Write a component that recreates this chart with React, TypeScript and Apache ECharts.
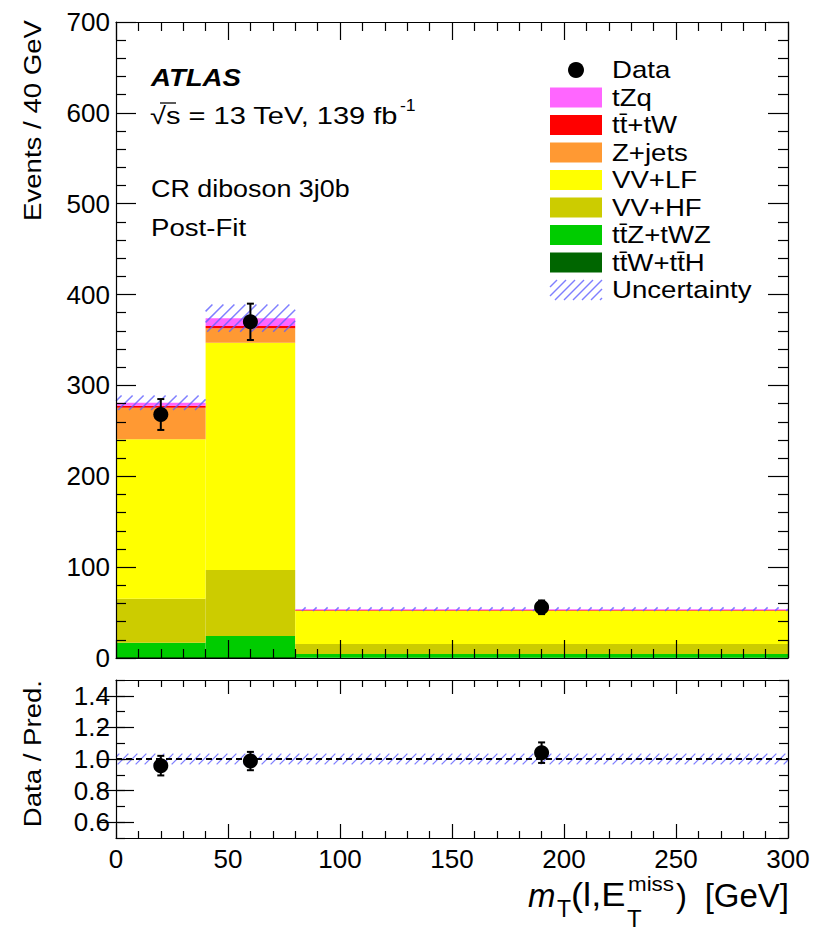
import React, { useEffect, useRef } from "react";
import * as echarts from "echarts";

// ---- data ----
const binEdges = [0, 40, 80, 300];
const binCenters = [20, 60, 190];
const ttWttH = [1.0, 1.2, 0.4];
const ttZtWZ = [15.8, 23.0, 4.0];
const vvHF = [48.5, 72.7, 11.0];
const vvLF = [175.4, 250.1, 36.3];
const zJets = [34.8, 15.9, 0.6];
const ttbarTW = [2.0, 2.5, 0.5];
const tZq = [3.5, 8.6, 0.9];
const mcUncertainty = [8, 15, 2];
const dataValues = [268, 370, 55.8];
const dataErrors = [17, 20, 7.5];
const ratioValues = [0.958, 0.987, 1.04];
const ratioErrors = [0.062, 0.058, 0.065];
const ratioBand = [0.034, 0.034, 0.034];

const mainYTicks = [0, 100, 200, 300, 400, 500, 600, 700];
const ratioYTicks = [0.6, 0.8, 1.0, 1.2, 1.4];
const xTicks = [0, 50, 100, 150, 200, 250, 300];

const TB = "t\u0304";
const processes = [
  { name: `t${TB}W+t${TB}H`, values: ttWttH, color: "#006600" },
  { name: `t${TB}Z+tWZ`, values: ttZtWZ, color: "#00cc00" },
  { name: "VV+HF", values: vvHF, color: "#cccc00" },
  { name: "VV+LF", values: vvLF, color: "#ffff00" },
  { name: "Z+jets", values: zJets, color: "#ff9933" },
  { name: `t${TB}+tW`, values: ttbarTW, color: "#ff0000" },
  { name: "tZq", values: tZq, color: "#ff66ff" },
];

const FONT = "'Liberation Sans', Arial, Helvetica, sans-serif";
const HATCH = "rgba(95,95,255,0.8)";

function hatch(x0: number, y0: number, x1: number, y1: number, step: number, style: any) {
  const out: any[] = [];
  const start = Math.ceil((x0 + y0) / step) * step;
  for (let c = start; c <= x1 + y1; c += step) {
    const lo = Math.max(x0, c - y1);
    const hi = Math.min(x1, c - y0);
    if (hi > lo) out.push({ type: "line", shape: { x1: lo, y1: c - lo, x2: hi, y2: c - hi }, style });
  }
  return out;
}

function pointWithError(api: any, r: number) {
  const x = api.value(0), y = api.value(1), e = api.value(2);
  const p = api.coord([x, y]);
  const t = api.coord([x, y + e]);
  const b = api.coord([x, y - e]);
  const ls = { stroke: "#000", lineWidth: 2 };
  return {
    type: "group",
    children: [
      { type: "line", shape: { x1: p[0], y1: t[1], x2: p[0], y2: b[1] }, style: ls },
      { type: "line", shape: { x1: p[0] - 3.5, y1: t[1], x2: p[0] + 3.5, y2: t[1] }, style: ls },
      { type: "line", shape: { x1: p[0] - 3.5, y1: b[1], x2: p[0] + 3.5, y2: b[1] }, style: ls },
      { type: "circle", shape: { cx: p[0], cy: p[1], r }, style: { fill: "#000" } },
    ],
  };
}

function buildOption() {
  const series: any[] = [];
  const cum = binCenters.map(() => 0);
  processes.forEach((proc) => {
    const data = proc.values.map((v, i) => {
      const base = cum[i];
      cum[i] += v;
      return [binEdges[i], binEdges[i + 1], base, cum[i]];
    });
    series.push({
      type: "custom",
      name: proc.name,
      xAxisIndex: 0,
      yAxisIndex: 0,
      silent: true,
      data,
      renderItem: (_p: any, api: any) => {
        const a = api.coord([api.value(0), api.value(3)]);
        const b = api.coord([api.value(1), api.value(2)]);
        return {
          type: "rect",
          shape: { x: a[0], y: a[1], width: b[0] - a[0], height: b[1] - a[1] },
          style: { fill: proc.color },
        };
      },
    });
  });
  const totals = cum.slice();
  series.push({
    type: "custom",
    name: "Uncertainty",
    xAxisIndex: 0,
    yAxisIndex: 0,
    silent: true,
    data: totals.map((t, i) => [binEdges[i], binEdges[i + 1], t - mcUncertainty[i], t + mcUncertainty[i]]),
    renderItem: (_p: any, api: any) => {
      const a = api.coord([api.value(0), api.value(3)]);
      const b = api.coord([api.value(1), api.value(2)]);
      return {
        type: "group",
        children: hatch(a[0], a[1], b[0], b[1], 11, { stroke: HATCH, lineWidth: 1.5 }),
      };
    },
  });
  series.push({
    type: "custom",
    name: "Data",
    xAxisIndex: 0,
    yAxisIndex: 0,
    silent: true,
    data: dataValues.map((v, i) => [binCenters[i], v, dataErrors[i]]),
    renderItem: (_p: any, api: any) => pointWithError(api, 7.5),
  });
  series.push({
    type: "custom",
    name: "RatioBand",
    xAxisIndex: 2,
    yAxisIndex: 2,
    silent: true,
    data: ratioBand.map((u, i) => [binEdges[i], binEdges[i + 1], 1 - u, 1 + u]),
    renderItem: (_p: any, api: any) => {
      const a = api.coord([api.value(0), api.value(3)]);
      const b = api.coord([api.value(1), api.value(2)]);
      return {
        type: "group",
        children: hatch(a[0], a[1], b[0], b[1], 9, { stroke: HATCH, lineWidth: 1.3 }),
      };
    },
  });
  series.push({
    type: "line",
    name: "Unity",
    xAxisIndex: 2,
    yAxisIndex: 2,
    silent: true,
    symbol: "none",
    data: [
      [binEdges[0], 1],
      [binEdges[binEdges.length - 1], 1],
    ],
    lineStyle: { color: "#000", width: 2, type: [6, 4] },
  });
  series.push({
    type: "custom",
    name: "Ratio",
    xAxisIndex: 2,
    yAxisIndex: 2,
    silent: true,
    data: ratioValues.map((v, i) => [binCenters[i], v, ratioErrors[i]]),
    renderItem: (_p: any, api: any) => pointWithError(api, 7.5),
  });

  const axisLine = { show: true, onZero: false, lineStyle: { color: "#000", width: 1.2 } };
  const label = { color: "#000", fontSize: 26, fontFamily: FONT };

  const xAx = (gridIndex: number, position: string, showLabel: boolean, major: number, minor: number) => ({
    type: "value",
    gridIndex,
    position,
    min: xTicks[0],
    max: xTicks[xTicks.length - 1],
    interval: 50,
    z: 10,
    axisLine,
    axisTick: { show: true, inside: true, length: major, lineStyle: { color: "#000", width: 1.2 } },
    minorTick: { show: true, splitNumber: 5, length: minor, lineStyle: { color: "#000", width: 1.2 } },
    splitLine: { show: false },
    axisLabel: showLabel ? { ...label, margin: 8 } : { show: false },
  });

  const mainY = (position: string, showLabel: boolean) => ({
    type: "value",
    gridIndex: 0,
    position,
    min: mainYTicks[0],
    max: mainYTicks[mainYTicks.length - 1],
    interval: 100,
    z: 10,
    axisLine,
    axisTick: { show: true, inside: true, length: 20, lineStyle: { color: "#000", width: 1.2 } },
    minorTick: { show: true, splitNumber: 5, length: 10, lineStyle: { color: "#000", width: 1.2 } },
    splitLine: { show: false },
    axisLabel: showLabel ? { ...label, margin: 6 } : { show: false },
  });

  const ratioYMinor = (position: string, showLabel: boolean) => ({
    type: "value",
    gridIndex: 1,
    position,
    min: 0.5,
    max: 1.5,
    interval: 0.1,
    z: 10,
    axisLine,
    axisTick: { show: true, inside: true, length: 9, lineStyle: { color: "#000", width: 1.2 } },
    splitLine: { show: false },
    axisLabel: showLabel
      ? {
          ...label,
          margin: 6,
          customValues: ratioYTicks,
          formatter: (v: number) => v.toFixed(1),
        }
      : { show: false },
  });
  const ratioYMajor = (position: string) => ({
    type: "value",
    gridIndex: 1,
    position,
    min: 0.5,
    max: 1.5,
    z: 10,
    axisLine: { show: false },
    axisTick: {
      show: true,
      inside: true,
      length: 18,
      customValues: ratioYTicks,
      lineStyle: { color: "#000", width: 1.2 },
    },
    splitLine: { show: false },
    axisLabel: { show: false },
  });

  const legendRows = [
    { name: "Data", kind: "data" },
    { name: "tZq", color: "#ff66ff" },
    { name: `t${TB}+tW`, color: "#ff0000" },
    { name: "Z+jets", color: "#ff9933" },
    { name: "VV+LF", color: "#ffff00" },
    { name: "VV+HF", color: "#cccc00" },
    { name: `t${TB}Z+tWZ`, color: "#00cc00" },
    { name: `t${TB}W+t${TB}H`, color: "#006600" },
    { name: "Uncertainty", kind: "hatch" },
  ];
  const graphics: any[] = [];
  const txt = (text: string, x: number, y: number, size: number, extra: any = {}) => ({
    type: "text",
    x,
    y,
    rotation: extra.rotation || 0,
    scaleX: extra.sx || 1,
    style: {
      text,
      font: `${extra.italic ? "italic " : ""}${extra.weight ? extra.weight + " " : ""}${size}px ${FONT}`,
      fill: "#000",
      verticalAlign: "middle",
      align: extra.align || "left",
    },
  });
  legendRows.forEach((row: any, k) => {
    const cy = 70 + 27.5 * k;
    if (row.kind === "data") {
      graphics.push({ type: "circle", shape: { cx: 576, cy, r: 8 }, style: { fill: "#000" } });
    } else if (row.kind === "hatch") {
      graphics.push({
        type: "group",
        children: hatch(550, cy - 10, 602, cy + 10, 9, { stroke: HATCH, lineWidth: 1.5 }),
      });
    } else {
      graphics.push({ type: "rect", shape: { x: 550, y: cy - 10, width: 52, height: 20 }, style: { fill: row.color } });
    }
    graphics.push(txt(row.name, 612, cy, 24, { sx: 1.15 }));
  });
  graphics.push(txt("ATLAS", 151, 78, 24, { weight: "bold", italic: true, sx: 1.15 }));
  graphics.push(txt("\u221As = 13 TeV, 139 fb", 150, 116, 24, { sx: 1.21 }));
  graphics.push({
    type: "line",
    shape: { x1: 160, y1: 103, x2: 176, y2: 103 },
    style: { stroke: "#000", lineWidth: 1.3 },
  });
  graphics.push(txt("-1", 400, 106, 16, { sx: 1.1 }));
  graphics.push(txt("CR diboson 3j0b", 151, 189, 24, { sx: 1.12 }));
  graphics.push(txt("Post-Fit", 151, 228, 24, { sx: 1.15 }));
  // axis titles
  graphics.push(txt("Events / 40 GeV", 33, 20, 24, { align: "right", rotation: Math.PI / 2, sx: 1.15 }));
  graphics.push(txt("Data / Pred.", 33, 680, 24, { align: "right", rotation: Math.PI / 2, sx: 1.15 }));
  graphics.push(txt("m", 528, 895, 33, { italic: true }));
  graphics.push(txt("T", 557, 909, 23));
  graphics.push(txt("(l,E", 571, 895, 33, { sx: 1.1 }));
  graphics.push(txt("miss", 628, 884, 20, { sx: 1.12 }));
  graphics.push(txt("T", 627, 918, 24));
  graphics.push(txt(")", 676, 895, 33));
  graphics.push(txt("[GeV]", 789, 895, 33, { align: "right" }));

  return {
    animation: false,
    backgroundColor: "#fff",
    textStyle: { fontFamily: FONT },
    grid: [
      { left: 116, top: 22, width: 672, height: 636 },
      { left: 116, top: 680, width: 672, height: 158 },
    ],
    xAxis: [
      xAx(0, "bottom", false, 18, 9),
      xAx(0, "top", false, 18, 9),
      xAx(1, "bottom", true, 14, 7),
      xAx(1, "top", false, 14, 7),
    ],
    yAxis: [
      mainY("left", true),
      mainY("right", false),
      ratioYMinor("left", true),
      ratioYMinor("right", false),
      ratioYMajor("left"),
      ratioYMajor("right"),
    ],
    series,
    graphic: graphics,
  };
}

export default function App() {
  const ref = useRef<HTMLDivElement>(null);
  useEffect(() => {
    if (!ref.current) return;
    const chart = echarts.init(ref.current, undefined, { renderer: "svg" });
    chart.setOption(buildOption() as any);
    return () => chart.dispose();
  }, []);
  return <div ref={ref} style={{ position: "absolute", left: 0, top: 0, width: 830, height: 936 }} />;
}
